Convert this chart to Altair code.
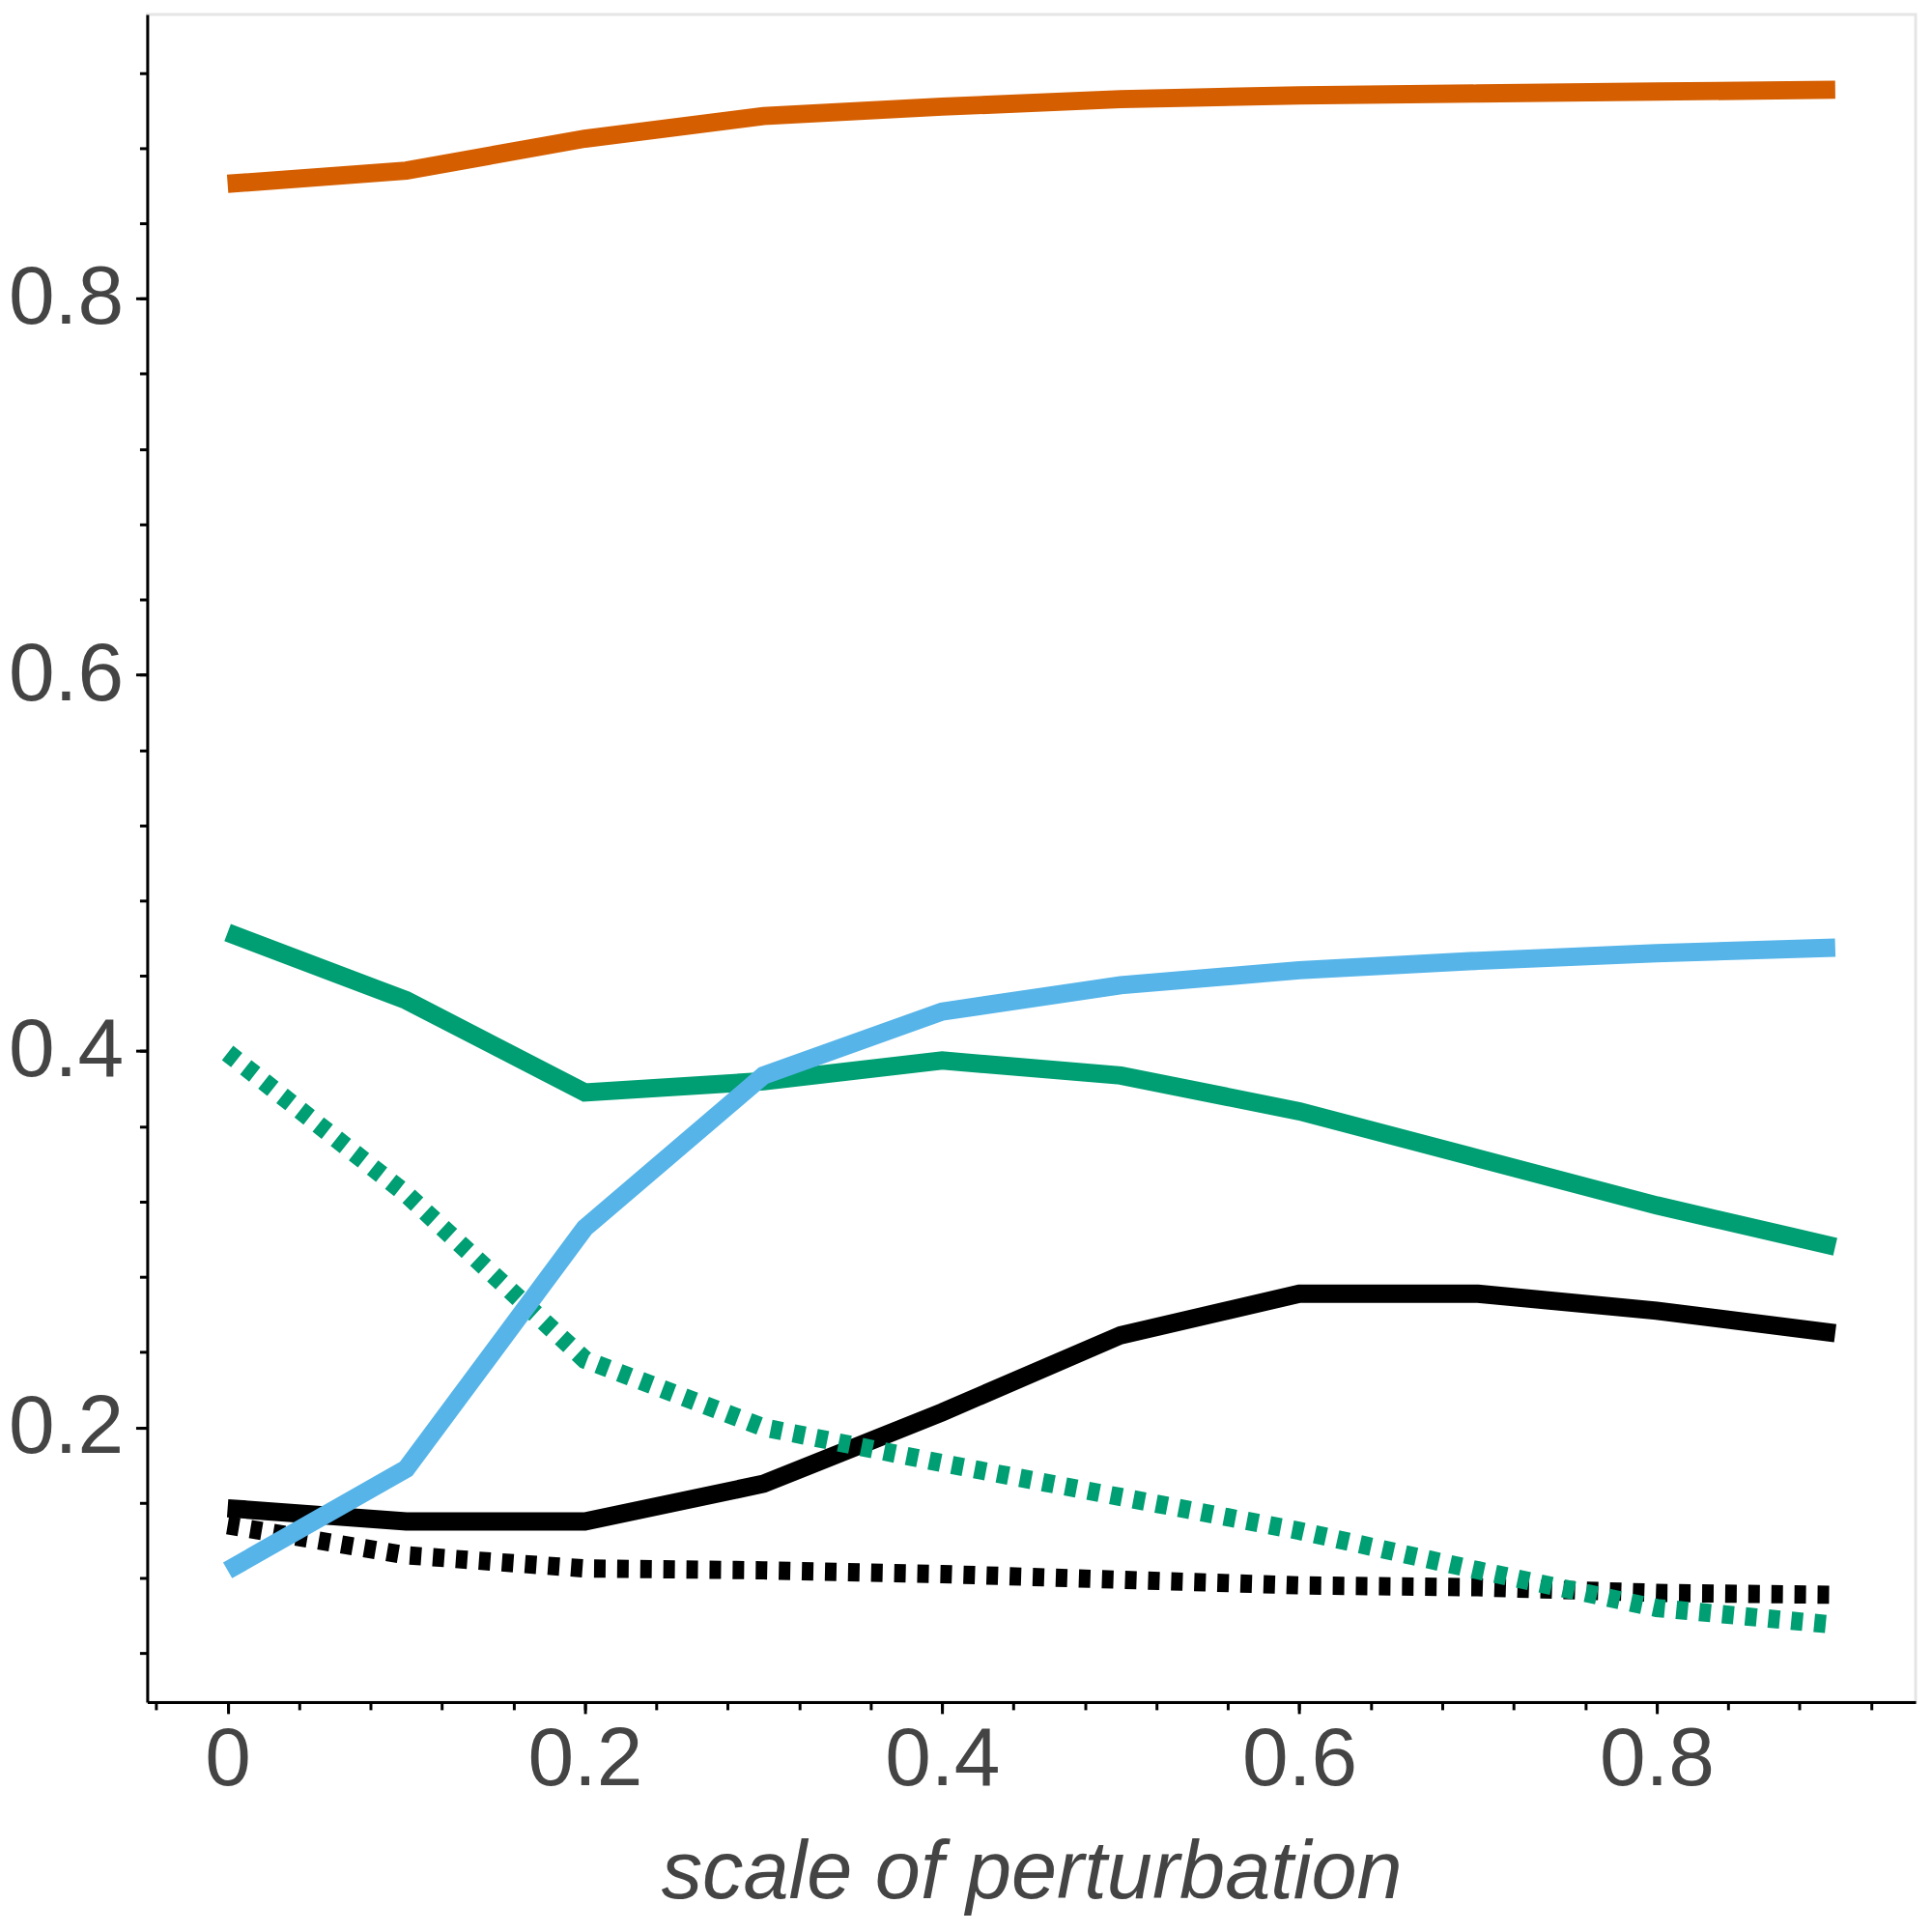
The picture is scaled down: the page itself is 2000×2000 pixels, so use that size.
import altair as alt
import pandas as pd

# ---- data ----
x_vals = [0.0, 0.1, 0.2, 0.3, 0.4, 0.5, 0.6, 0.7, 0.8, 0.9]

orange = [0.861, 0.868, 0.885, 0.897, 0.902, 0.906, 0.908, 0.909, 0.910, 0.911]
green_solid = [0.463, 0.427, 0.378, 0.384, 0.395, 0.387, 0.368, 0.343, 0.318, 0.296]
sky_blue = [0.124, 0.178, 0.306, 0.387, 0.421, 0.435, 0.443, 0.448, 0.452, 0.455]
green_dotted = [0.399, 0.324, 0.236, 0.200, 0.181, 0.163, 0.145, 0.124, 0.104, 0.095]
black_solid = [0.157, 0.150, 0.150, 0.170, 0.208, 0.249, 0.271, 0.271, 0.262, 0.250]
black_dotted = [0.148, 0.132, 0.125, 0.124, 0.122, 0.119, 0.116, 0.115, 0.112, 0.111]

x_major = [0, 0.2, 0.4, 0.6, 0.8]
y_major = [0.2, 0.4, 0.6, 0.8]
x_minor = [-0.04, 0.0, 0.04, 0.08, 0.12, 0.16, 0.2, 0.24, 0.28, 0.32, 0.36, 0.4,
           0.44, 0.48, 0.52, 0.56, 0.6, 0.64, 0.68, 0.72, 0.76, 0.8, 0.84, 0.88, 0.92]
y_minor = [0.08, 0.12, 0.16, 0.2, 0.24, 0.28, 0.32, 0.36, 0.4, 0.44, 0.48, 0.52,
           0.56, 0.6, 0.64, 0.68, 0.72, 0.76, 0.8, 0.84, 0.88, 0.92]

x_title = "scale of perturbation"

# drawing order: bottom -> top
series = [
    (black_dotted, "#000000", True),
    (black_solid, "#000000", False),
    (green_dotted, "#009E73", True),
    (green_solid, "#009E73", False),
    (sky_blue, "#56B4E9", False),
    (orange, "#D55E00", False),
]

FONT = "Liberation Sans"
TXT = "#444444"

xscale = alt.Scale(domain=[-0.045, 0.945], nice=False, zero=False)
yscale = alt.Scale(domain=[0.054, 0.951], nice=False, zero=False)

x_axis = alt.Axis(
    orient="bottom",
    values=x_major, format="~g", grid=False,
    tickSize=12, tickWidth=3, tickColor="#000000",
    domainColor="#000000", domainWidth=3,
    labelFont=FONT, labelFontSize=86, labelColor=TXT, labelPadding=6,
    labelFlush=False, labelOverlap=False,
    title=x_title, titleFont=FONT, titleFontSize=85, titleFontStyle="italic",
    titleFontWeight="normal", titleColor=TXT, titlePadding=33,
)
y_axis = alt.Axis(
    orient="left",
    values=y_major, format="~g", grid=False,
    tickSize=12, tickWidth=3, tickColor="#000000",
    domainColor="#000000", domainWidth=3,
    labelFont=FONT, labelFontSize=86, labelColor=TXT, labelPadding=13,
    labelFlush=False, labelOverlap=False,
    title=None,
)
x_axis_minor = alt.Axis(values=x_minor, labels=False, domain=False, grid=False,
                        tickSize=8, tickWidth=3, tickColor="#000000", title=None,
                        orient="bottom")
y_axis_minor = alt.Axis(values=y_minor, labels=False, domain=False, grid=False,
                        tickSize=8, tickWidth=3, tickColor="#000000", title=None,
                        orient="left")

layers = []
for i, (vals, color, dotted) in enumerate(series):
    df = pd.DataFrame({"x": x_vals, "y": vals})
    mk = dict(color=color, strokeWidth=19, strokeCap="butt", strokeJoin="miter")
    if dotted:
        mk["strokeDash"] = [12, 12]
    if i == 0:
        enc = dict(x=alt.X("x:Q", scale=xscale, axis=x_axis),
                   y=alt.Y("y:Q", scale=yscale, axis=y_axis))
    else:
        enc = dict(x=alt.X("x:Q", scale=xscale),
                   y=alt.Y("y:Q", scale=yscale))
    layers.append(alt.Chart(df).mark_line(**mk).encode(**enc))

main = alt.layer(*layers)

minor = alt.Chart(pd.DataFrame({"x": x_vals, "y": orange})).mark_line(
    strokeOpacity=0
).encode(
    x=alt.X("x:Q", scale=xscale, axis=x_axis_minor),
    y=alt.Y("y:Q", scale=yscale, axis=y_axis_minor),
)

chart = alt.layer(minor, main).resolve_axis(
    x="independent", y="independent"
).properties(
    width=1838, height=1754,
    autosize=alt.AutoSizeParams(type="none"),
    padding={"left": 145, "top": 3, "right": 9, "bottom": 230},
    background="#ffffff",
).configure_view(
    stroke="#e5e5e5", strokeWidth=3
)

chart.save("out.html", embed_options={"renderer": "svg", "actions": False})
